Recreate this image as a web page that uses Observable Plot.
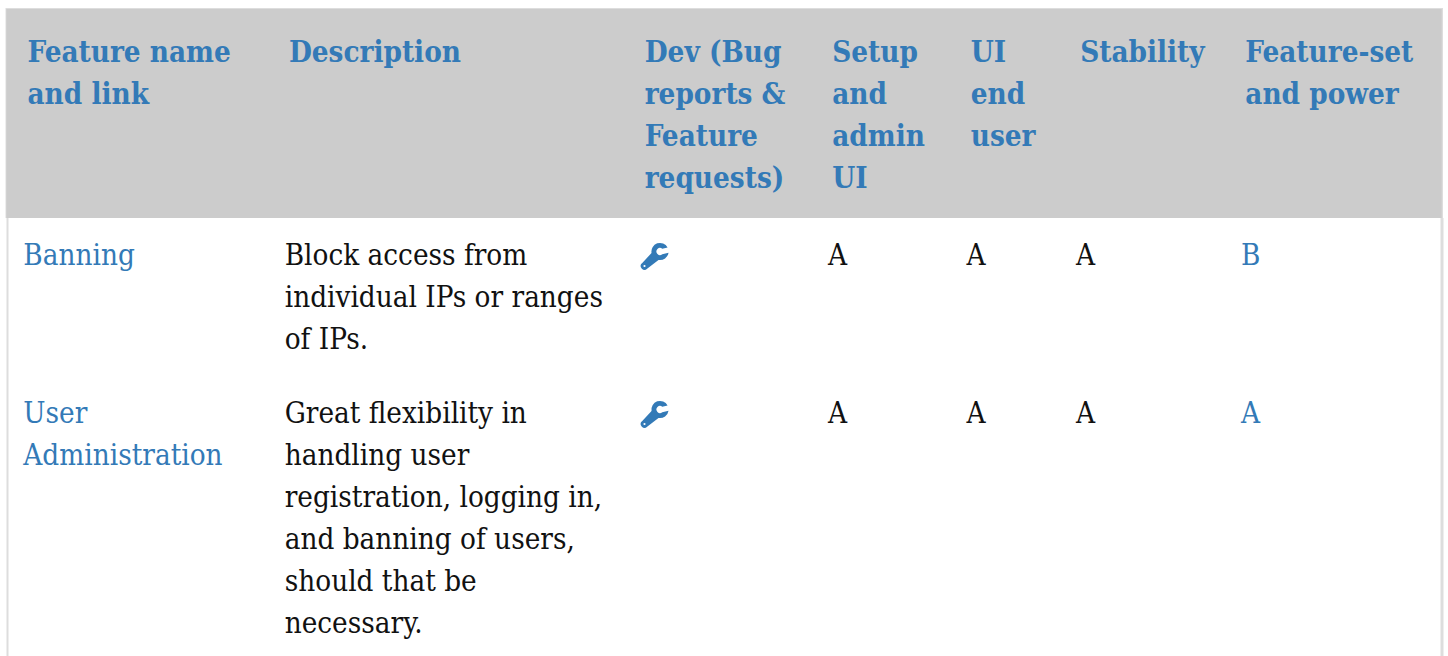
<!DOCTYPE html>
<html>
<head>
<meta charset="utf-8">
<script src="https://cdn.jsdelivr.net/npm/d3@7"></script>
<script src="https://cdn.jsdelivr.net/npm/@observablehq/plot@0.6"></script>
<style>html,body{margin:0;padding:0;background:#fff;overflow:hidden}svg{display:block}</style>
</head>
<body>
<div id="chart"></div>
<script>
const columns = ["name", "description", "dev", "setup", "ui", "stability", "power"];
const headers = ["Feature name\nand link", "Description", "Dev (Bug\nreports &\nFeature\nrequests)", "Setup\nand\nadmin\nUI", "UI\nend\nuser", "Stability", "Feature-set\nand power"];
const names = ["Banning", "User\nAdministration"];
const descriptions = ["Block access from\nindividual IPs or ranges\nof IPs.", "Great flexibility in\nhandling user\nregistration, logging in,\nand banning of users,\nshould that be\nnecessary."];
const setupGrades = ["A", "A"];
const uiGrades = ["A", "A"];
const stabilityGrades = ["A", "A"];
const powerGrades = ["B", "A"];

const W = 1448, H = 656;
const blue = "#337ab7", ink = "#111", border = "#dddddd", headerFill = "#cccccc";
const font = "'DejaVu Serif Condensed'";
const fontSize = 29.35;
const columnX = {name: 22.8, description: 284.2, dev: 640, setup: 827.5, ui: 966, stability: 1075.5, power: 1240.6};
const rowTop = [235, 393];
const headTop = 32;

const rows = names.map((n, i) => ({row: i, name: n, description: descriptions[i], setup: setupGrades[i], ui: uiGrades[i], stability: stabilityGrades[i], power: powerGrades[i]}));
const cell = (key) => rows.map(r => ({col: key, row: r.row, text: r[key]}));
const bodyDark = [...cell("description"), ...cell("setup"), ...cell("ui"), ...cell("stability")];
const bodyLink = [...cell("name"), ...cell("power")];
const headCells = columns.map((c, i) => ({col: c, text: headers[i]}));

const wrench = {
  draw(ctx, size) {
    const s = Math.sqrt(size / Math.PI) / 14;
    const a = d => d * Math.PI / 180;
    const hx = 6 * s, hy = -5 * s, R = 8.6 * s, r = 3.5 * s;
    ctx.moveTo(-12.2 * s, 6.9 * s);
    ctx.lineTo(hx + R * Math.cos(a(170)), hy + R * Math.sin(a(170)));
    ctx.arc(hx, hy, R, a(170), a(332), false);
    ctx.arc(hx, hy, r, a(310), a(50), true);
    ctx.arc(hx, hy, R, a(8), a(100), false);
    ctx.lineTo(-6.9 * s, 12.2 * s);
    ctx.arc(-9.5 * s, 9.5 * s, 3.75 * s, a(45), a(225), false);
    ctx.closePath();
    ctx.moveTo(-8.4 * s, 9.5 * s);
    ctx.arc(-9.5 * s, 9.5 * s, 1.1 * s, 0, 2 * Math.PI, true);
    ctx.closePath();
  }
};

const textOpts = {lineAnchor: "top", textAnchor: "start", fontFamily: font, lineHeight: 42 / fontSize, fontSize};

const chart = Plot.plot({
  width: W, height: H,
  marginTop: 0, marginRight: 0, marginBottom: 0, marginLeft: 0,
  style: {background: "#fff"},
  x: {type: "linear", domain: [0, W], range: [0, W], axis: null},
  y: {type: "linear", domain: [0, H], range: [0, H], axis: null},
  marks: [
    Plot.ruleX([7], {y1: 218, y2: H, stroke: border, strokeWidth: 2}),
    Plot.ruleX([1441.5], {y1: 218, y2: H, stroke: border, strokeWidth: 3}),
    Plot.rect([0], {x1: 5.5, x2: 1443, y1: 8, y2: 218, fill: border}),
    Plot.rect([0], {x1: 6.3, x2: 1441.7, y1: 9, y2: 218, fill: headerFill}),
    Plot.text(headCells, {...textOpts, x: d => columnX[d.col] + 4.2, y: headTop, text: "text", fill: blue, fontWeight: "bold"}),
    Plot.text(bodyDark, {...textOpts, x: d => columnX[d.col], y: d => rowTop[d.row], text: "text", fill: ink}),
    Plot.text(bodyLink, {...textOpts, x: d => columnX[d.col], y: d => rowTop[d.row], text: "text", fill: blue}),
    Plot.dot(rows, {x: columnX.dev + 13.5, y: d => rowTop[d.row] + 21, r: 14, symbol: wrench, fill: blue, stroke: "none"})
  ]
});
document.getElementById("chart").append(chart);
</script>
</body>
</html>
